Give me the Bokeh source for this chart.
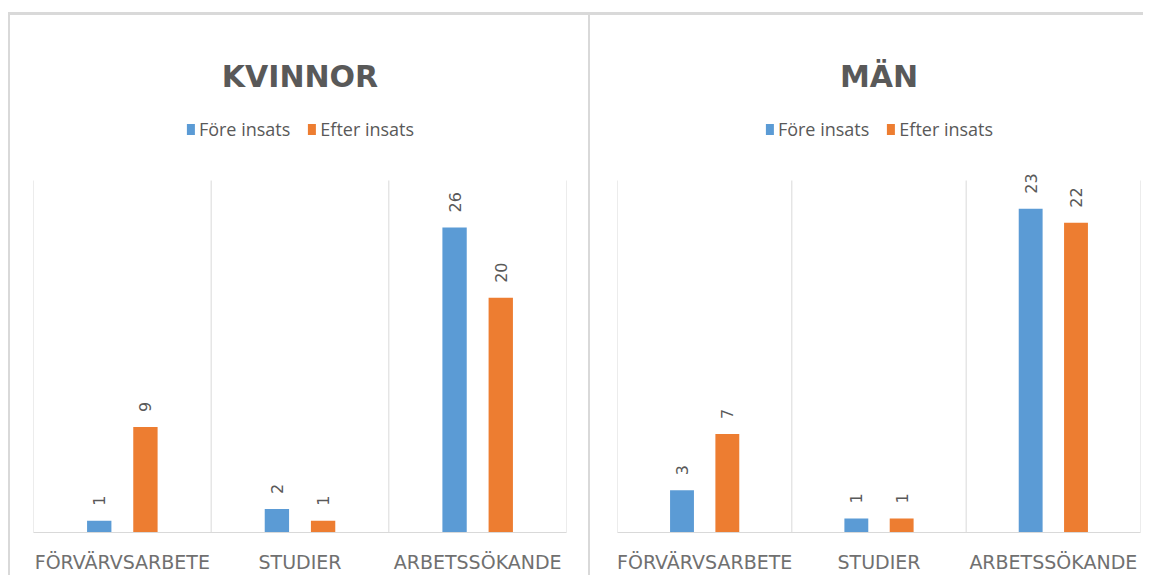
import math
from bokeh.plotting import figure
from bokeh.models import ColumnDataSource, FactorRange, Range1d, Legend, LegendItem
from bokeh.transform import dodge
from bokeh.layouts import row
from bokeh.core.properties import value
from bokeh.embed import file_html
from bokeh.resources import INLINE

categories = ["FÖRVÄRVSARBETE", "STUDIER", "ARBETSSÖKANDE"]
series_names = ["Före insats", "Efter insats"]
kvinnor_fore = [1, 2, 26]
kvinnor_efter = [9, 1, 20]
man_fore = [3, 1, 23]
man_efter = [7, 1, 22]

BLUE = "#5B9BD5"
ORANGE = "#ED7D31"
GREY = "#595959"
GRID = "#d9d9d9"

FRAME_H = 422   # frame height in px (includes legend area)
BAR_H = 352     # height of bar area in px


def make_panel(title, fore, efter, ymax, width, border_left, border_right):
    yend = ymax * FRAME_H / BAR_H
    p = figure(x_range=FactorRange(*categories), y_range=Range1d(0, yend),
               width=width, height=563, output_backend="svg", toolbar_location=None,
               min_border_left=border_left, min_border_right=border_right,
               min_border_top=95, min_border_bottom=46,
               outline_line_color=None, background_fill_color="white",
               border_fill_color="white")
    p.title.text = title
    p.title.align = "center"
    p.title.vertical_align = "top"
    p.title.text_font = "DejaVu Sans"
    p.title.text_font_style = "bold"
    p.title.text_font_size = "30px"
    p.title.text_color = GREY
    p.title.standoff = 29
    p.title.offset = 0

    src = ColumnDataSource(dict(cat=categories, fore=fore, efter=efter,
                                fore_lbl=[str(v) for v in fore],
                                efter_lbl=[str(v) for v in efter]))

    # category separators
    p.segment(x0=dodge("cat", -0.5, range=p.x_range), y0=0,
              x1=dodge("cat", -0.5, range=p.x_range), y1=ymax,
              source=src, line_color=GRID, line_width=1)
    last = ColumnDataSource(dict(cat=[categories[-1]]))
    p.segment(x0=dodge("cat", 0.5, range=p.x_range), y0=0,
              x1=dodge("cat", 0.5, range=p.x_range), y1=ymax,
              source=last, line_color=GRID, line_width=1)

    r1 = p.vbar(x=dodge("cat", -0.13, range=p.x_range), top="fore", width=0.137,
                source=src, fill_color=BLUE, line_color=None)
    r2 = p.vbar(x=dodge("cat", 0.13, range=p.x_range), top="efter", width=0.137,
                source=src, fill_color=ORANGE, line_color=None)

    for xoff, col in ((-0.13, "fore"), (0.13, "efter")):
        p.text(x=dodge("cat", xoff, range=p.x_range), y=col, text=col + "_lbl",
               source=src, angle=math.pi / 2, text_align="left",
               text_baseline="middle", y_offset=-15,
               text_font=value("DejaVu Sans"), text_font_size="16px",
               text_color=GREY)

    legend = Legend(items=[LegendItem(label=series_names[0], renderers=[r1]),
                           LegendItem(label=series_names[1], renderers=[r2])],
                    orientation="horizontal", location="top_center",
                    glyph_width=10, glyph_height=14, label_standoff=4,
                    spacing=16, padding=0, margin=7,
                    label_text_font="Open Sans",
                    label_text_font_size="18px", label_text_color=GREY,
                    border_line_color=None, background_fill_alpha=0)
    p.add_layout(legend, "center")

    p.yaxis.visible = False
    p.xgrid.grid_line_color = None
    p.ygrid.grid_line_color = None
    p.xaxis.axis_line_color = GRID
    p.xaxis.major_tick_line_color = None
    p.xaxis.minor_tick_line_color = None
    p.xaxis.major_label_standoff = 12
    p.xaxis.major_label_text_font = "DejaVu Sans"
    p.xaxis.major_label_text_font_size = "19px"
    p.xaxis.major_label_text_color = "#707070"
    return p


p1 = make_panel("KVINNOR", kvinnor_fore, kvinnor_efter, 30, 582, 23, 26)
p2 = make_panel("MÄN", man_fore, man_efter, 25, 553, 27, 3)
p1.styles = {"border-top": "3px solid #d9d9d9", "border-left": "2px solid #d9d9d9",
             "border-right": "2px solid #d9d9d9"}
p2.styles = {"border-top": "3px solid #d9d9d9"}
p1.margin = (12, 0, 0, 8)
p2.margin = (12, 0, 0, 0)

layout = row(p1, p2)
open("out.html", "w").write(file_html(layout, INLINE))
